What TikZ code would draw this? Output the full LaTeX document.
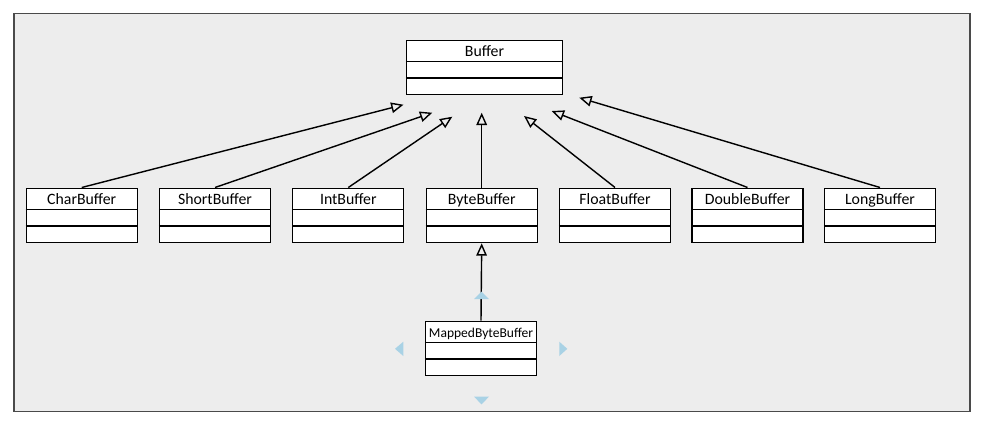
\documentclass[tikz,border=0pt]{standalone}
\usepackage{fontspec}
\setmainfont{Carlito}
\usetikzlibrary{arrows.meta}
\definecolor{bgc}{HTML}{EDEDED}
\definecolor{framec}{HTML}{4A4A4A}
\definecolor{handlec}{HTML}{A9D2E5}
\tikzset{
  clsbox/.style={draw=black, fill=white, line width=0.75pt, inner sep=0pt, rectangle},
  clsline/.style={draw=black, line width=0.75pt},
  clstext/.style={inner sep=0pt, text height=1.38ex, text depth=0pt},
  inh/.style={draw=black, line width=0.8pt, -{Triangle[open, length=7pt, width=6pt, line width=0.8pt]}},
  handle/.style={fill=handlec, draw=none}
}
\newcommand\umlclass[9]{% name, cx, top, w, h1, h2, h3, text, font
  \node[clsbox, minimum width={#4*0.02cm}, minimum height={(#5+#6+#7)*0.02cm}, anchor=north] (#1) at (#2,#3) {};
  \node[clstext, font=#9] (#1-name) at (#2,#3+#5/2) {#8};
  \draw[clsline] ([yshift={-#5*0.02cm}]#1.north west) -- ([yshift={-#5*0.02cm}]#1.north east);
  \draw[clsline] ([yshift={-(#5+#6)*0.02cm}]#1.north west) -- ([yshift={-(#5+#6)*0.02cm}]#1.north east);
}
\newcommand\bigf{\fontsize{9}{11}\selectfont}
\newcommand\smallf{\fontsize{7.7}{9}\selectfont}
\begin{document}
\begin{tikzpicture}[x=0.02cm,y=-0.02cm]
\useasboundingbox[fill=white] (0,0) rectangle (983,423);
\draw[framec, line width=0.8pt, fill=bgc] (14,13.5) rectangle (970,411.5);

\umlclass{buffer}{484.5}{39.5}{156}{22}{16.5}{16}{Buffer}{\bigf}
\umlclass{char}{81.7}{187.5}{111}{22}{16.5}{16}{CharBuffer}{\bigf}
\umlclass{short}{215}{187.5}{111}{22}{16.5}{16}{ShortBuffer}{\bigf}
\umlclass{int}{348.3}{187.5}{111}{22}{16.5}{16}{IntBuffer}{\bigf}
\umlclass{byte}{481.7}{187.5}{111}{22}{16.5}{16}{ByteBuffer}{\bigf}
\umlclass{float}{615}{187.5}{111}{22}{16.5}{16}{FloatBuffer}{\bigf}
\umlclass{double}{747.5}{187.5}{111}{22}{16.5}{16}{DoubleBuffer}{\bigf}
\umlclass{long}{880}{187.5}{111}{22}{16.5}{16}{LongBuffer}{\bigf}
\umlclass{mapped}{481}{320.5}{111}{22}{16.5}{16}{MappedByteBuffer}{\smallf}

\coordinate (tchar) at (403.5,104.7);
\coordinate (tshort) at (432.3,112.7);
\coordinate (tint) at (452.3,116.7);
\coordinate (tbyte) at (481.7,112.7);
\coordinate (tfloat) at (524,116);
\coordinate (tdouble) at (551.7,111);
\coordinate (tlong) at (579.3,97.7);

\draw[inh] (char.north) -- (tchar);
\draw[inh] (short.north) -- (tshort);
\draw[inh] (int.north) -- (tint);
\draw[inh] (byte.north) -- (tbyte);
\draw[inh] (float.north) -- (tfloat);
\draw[inh] (double.north) -- (tdouble);
\draw[inh] (long.north) -- (tlong);
\draw[inh] (mapped.north) -- (byte.south);

% selection handles
\fill[handle] (474,299) -- (489,299) -- (481.5,291.7) -- cycle;
\fill[handle] (474,396.7) -- (489,396.7) -- (481.5,404.3) -- cycle;
\fill[handle] (403.3,341.7) -- (403.3,356) -- (395,348.8) -- cycle;
\fill[handle] (559.3,341.7) -- (559.3,356) -- (567.3,348.8) -- cycle;
\end{tikzpicture}
\end{document}
